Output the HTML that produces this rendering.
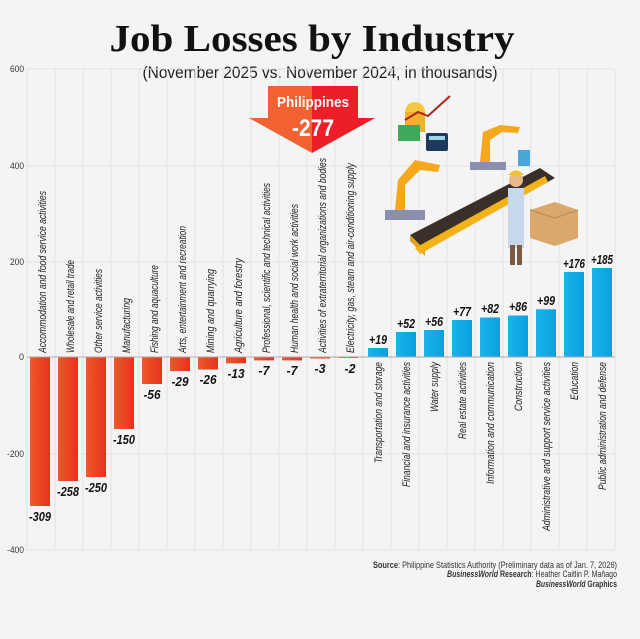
<!DOCTYPE html>
<html><head><style>
html,body{margin:0;padding:0;background:#f4f4f4;}
svg{display:block;}
</style></head><body>
<svg width="640" height="639" viewBox="0 0 640 639" xmlns="http://www.w3.org/2000/svg" font-family="'Liberation Sans Narrow','Liberation Sans',sans-serif">
<defs>
<linearGradient id="neg" x1="0" x2="1"><stop offset="0" stop-color="#f05a2a"/><stop offset="1" stop-color="#e5301e"/></linearGradient>
<linearGradient id="pos" x1="0" x2="1"><stop offset="0" stop-color="#19b4ec"/><stop offset="1" stop-color="#0a9fe0"/></linearGradient>
<linearGradient id="arr" x1="0" x2="1"><stop offset="0.5" stop-color="#f26131"/><stop offset="0.5" stop-color="#ec1f28"/></linearGradient>
</defs>
<rect width="640" height="639" fill="#f4f4f4"/>
<text x="312" y="51" text-anchor="middle" font-family="'Liberation Serif',serif" font-weight="bold" font-size="38" fill="#111" textLength="405" lengthAdjust="spacingAndGlyphs">Job Losses by Industry</text>
<text x="320" y="78" text-anchor="middle" font-size="17" fill="#222" textLength="355" lengthAdjust="spacingAndGlyphs">(November 2025 vs. November 2024, in thousands)</text>
<g stroke="#e2e2e2" stroke-width="1">
<line x1="27" y1="69" x2="615" y2="69"/><line x1="27" y1="166" x2="615" y2="166"/><line x1="27" y1="262" x2="615" y2="262"/><line x1="27" y1="454" x2="615" y2="454"/><line x1="27" y1="550" x2="615" y2="550"/>
<line x1="27" y1="69" x2="27" y2="550"/><line x1="55" y1="69" x2="55" y2="550"/><line x1="83" y1="69" x2="83" y2="550"/><line x1="111" y1="69" x2="111" y2="550"/><line x1="139" y1="69" x2="139" y2="550"/><line x1="167" y1="69" x2="167" y2="550"/><line x1="195" y1="69" x2="195" y2="550"/><line x1="223" y1="69" x2="223" y2="550"/><line x1="251" y1="69" x2="251" y2="550"/><line x1="279" y1="69" x2="279" y2="550"/><line x1="307" y1="69" x2="307" y2="550"/><line x1="335" y1="69" x2="335" y2="550"/><line x1="363" y1="69" x2="363" y2="550"/><line x1="391" y1="69" x2="391" y2="550"/><line x1="419" y1="69" x2="419" y2="550"/><line x1="447" y1="69" x2="447" y2="550"/><line x1="475" y1="69" x2="475" y2="550"/><line x1="503" y1="69" x2="503" y2="550"/><line x1="531" y1="69" x2="531" y2="550"/><line x1="559" y1="69" x2="559" y2="550"/><line x1="587" y1="69" x2="587" y2="550"/><line x1="615" y1="69" x2="615" y2="550"/>
</g>
<g font-size="9" fill="#333" text-anchor="end">
<text x="24" y="72" textLength="14" lengthAdjust="spacingAndGlyphs">600</text><text x="24" y="169" textLength="14" lengthAdjust="spacingAndGlyphs">400</text><text x="24" y="265" textLength="14" lengthAdjust="spacingAndGlyphs">200</text><text x="24" y="360">0</text><text x="24" y="457" textLength="17" lengthAdjust="spacingAndGlyphs">-200</text><text x="24" y="553" textLength="17" lengthAdjust="spacingAndGlyphs">-400</text>
</g>
<g fill="url(#neg)">
<rect x="30" y="357" width="20" height="149"/>
<rect x="58" y="357" width="20" height="124"/>
<rect x="86" y="357" width="20" height="120"/>
<rect x="114" y="357" width="20" height="72"/>
<rect x="142" y="357" width="20" height="27"/>
<rect x="170" y="357" width="20" height="14"/>
<rect x="198" y="357" width="20" height="12.5"/>
<rect x="226" y="357" width="20" height="6.3"/>
<rect x="254" y="357" width="20" height="3.4"/>
<rect x="282" y="357" width="20" height="3.4"/>
<rect x="310" y="357" width="20" height="1.5"/>
<rect x="338" y="357" width="20" height="1"/>
</g>
<g fill="url(#pos)">
<rect x="368" y="348" width="20" height="9"/>
<rect x="396" y="332" width="20" height="25"/>
<rect x="424" y="330" width="20" height="27"/>
<rect x="452" y="320" width="20" height="37"/>
<rect x="480" y="317.5" width="20" height="39.5"/>
<rect x="508" y="315.5" width="20" height="41.5"/>
<rect x="536" y="309.3" width="20" height="47.7"/>
<rect x="564" y="272" width="20" height="85"/>
<rect x="592" y="268" width="20" height="89"/>
</g>
<line x1="27" y1="357" x2="615" y2="357" stroke="#aaa" stroke-width="1"/>
<g font-size="13" font-style="italic" font-weight="bold" fill="#111" text-anchor="middle" lengthAdjust="spacingAndGlyphs">
<text x="40" y="521" textLength="22" lengthAdjust="spacingAndGlyphs">-309</text><text x="68" y="496" textLength="22" lengthAdjust="spacingAndGlyphs">-258</text><text x="96" y="492" textLength="22" lengthAdjust="spacingAndGlyphs">-250</text><text x="124" y="444" textLength="22" lengthAdjust="spacingAndGlyphs">-150</text><text x="152" y="399" textLength="17" lengthAdjust="spacingAndGlyphs">-56</text><text x="180" y="386" textLength="17" lengthAdjust="spacingAndGlyphs">-29</text><text x="208" y="384" textLength="17" lengthAdjust="spacingAndGlyphs">-26</text><text x="236" y="378" textLength="17" lengthAdjust="spacingAndGlyphs">-13</text><text x="264" y="375" textLength="11" lengthAdjust="spacingAndGlyphs">-7</text><text x="292" y="375" textLength="11" lengthAdjust="spacingAndGlyphs">-7</text><text x="320" y="373" textLength="11" lengthAdjust="spacingAndGlyphs">-3</text><text x="350" y="373" textLength="11" lengthAdjust="spacingAndGlyphs">-2</text>
<text x="378" y="344" textLength="18" lengthAdjust="spacingAndGlyphs">+19</text><text x="406" y="328" textLength="18" lengthAdjust="spacingAndGlyphs">+52</text><text x="434" y="326" textLength="18" lengthAdjust="spacingAndGlyphs">+56</text><text x="462" y="316" textLength="18" lengthAdjust="spacingAndGlyphs">+77</text><text x="490" y="313" textLength="18" lengthAdjust="spacingAndGlyphs">+82</text><text x="518" y="311" textLength="18" lengthAdjust="spacingAndGlyphs">+86</text><text x="546" y="305" textLength="18" lengthAdjust="spacingAndGlyphs">+99</text><text x="574" y="268" textLength="22" lengthAdjust="spacingAndGlyphs">+176</text><text x="602" y="264" textLength="22" lengthAdjust="spacingAndGlyphs">+185</text>
</g>
<g font-size="11" font-style="italic" fill="#222">
<text transform="translate(46,353) rotate(-90)" textLength="162" lengthAdjust="spacingAndGlyphs">Accommodation and food service activities</text>
<text transform="translate(74,353) rotate(-90)" textLength="93" lengthAdjust="spacingAndGlyphs">Wholesale and retail trade</text>
<text transform="translate(102,353) rotate(-90)" textLength="84" lengthAdjust="spacingAndGlyphs">Other service activities</text>
<text transform="translate(130,353) rotate(-90)" textLength="55" lengthAdjust="spacingAndGlyphs">Manufacturing</text>
<text transform="translate(158,353) rotate(-90)" textLength="88" lengthAdjust="spacingAndGlyphs">Fishing and aquaculture</text>
<text transform="translate(186,353) rotate(-90)" textLength="127" lengthAdjust="spacingAndGlyphs">Arts, entertainment and recreation</text>
<text transform="translate(214,353) rotate(-90)" textLength="84" lengthAdjust="spacingAndGlyphs">Mining and quarrying</text>
<text transform="translate(242,353) rotate(-90)" textLength="95" lengthAdjust="spacingAndGlyphs">Agriculture and forestry</text>
<text transform="translate(270,353) rotate(-90)" textLength="170" lengthAdjust="spacingAndGlyphs">Professional, scientific and technical activities</text>
<text transform="translate(298,353) rotate(-90)" textLength="149" lengthAdjust="spacingAndGlyphs">Human health and social work activities</text>
<text transform="translate(326,353) rotate(-90)" textLength="195" lengthAdjust="spacingAndGlyphs">Activities of extraterritorial organizations and bodies</text>
<text transform="translate(354,353) rotate(-90)" textLength="190" lengthAdjust="spacingAndGlyphs">Electricity, gas, steam and air-conditioning supply</text>
<text transform="translate(382,362) rotate(-90)" text-anchor="end" textLength="101" lengthAdjust="spacingAndGlyphs">Transportation and storage</text>
<text transform="translate(410,362) rotate(-90)" text-anchor="end" textLength="125" lengthAdjust="spacingAndGlyphs">Financial and insurance activities</text>
<text transform="translate(438,362) rotate(-90)" text-anchor="end" textLength="50" lengthAdjust="spacingAndGlyphs">Water supply</text>
<text transform="translate(466,362) rotate(-90)" text-anchor="end" textLength="77" lengthAdjust="spacingAndGlyphs">Real estate activities</text>
<text transform="translate(494,362) rotate(-90)" text-anchor="end" textLength="122" lengthAdjust="spacingAndGlyphs">Information and communication</text>
<text transform="translate(522,362) rotate(-90)" text-anchor="end" textLength="49" lengthAdjust="spacingAndGlyphs">Construction</text>
<text transform="translate(550,362) rotate(-90)" text-anchor="end" textLength="169" lengthAdjust="spacingAndGlyphs">Administrative and support service activities</text>
<text transform="translate(578,362) rotate(-90)" text-anchor="end" textLength="38" lengthAdjust="spacingAndGlyphs">Education</text>
<text transform="translate(606,362) rotate(-90)" text-anchor="end" textLength="128" lengthAdjust="spacingAndGlyphs">Public administration and defense</text>
</g>
<path d="M268,86 H358 V118 H375 L312,153 L249,118 H268 Z" fill="url(#arr)"/>
<text x="313" y="107" text-anchor="middle" font-size="15" font-weight="bold" fill="#fff" textLength="72" lengthAdjust="spacingAndGlyphs">Philippines</text>
<text x="313" y="136" text-anchor="middle" font-size="24" font-weight="bold" fill="#fff" textLength="42" lengthAdjust="spacingAndGlyphs">-277</text>
<g>
<path d="M410,235 L540,168 L555,178 L425,250 Z" fill="#3a2f2a"/>
<path d="M410,235 L425,250 L425,256 L410,241 Z" fill="#e6a21a"/>
<path d="M415,248 L545,176 L548,182 L420,254 Z" fill="#f2b21a"/>
<rect x="385" y="210" width="40" height="10" fill="#8a8fb0"/>
<path d="M395,210 L398,180 L415,160 L440,165 L438,172 L420,170 L405,185 L405,210 Z" fill="#f5a81c"/>
<rect x="470" y="162" width="36" height="8" fill="#8a8fb0"/>
<path d="M480,162 L483,132 L500,125 L520,127 L518,133 L502,132 L490,140 L490,162 Z" fill="#f5a81c"/>
<circle cx="415" cy="112" r="10" fill="#f5c842"/>
<rect x="405" y="112" width="20" height="20" fill="#f0b030"/>
<rect x="398" y="125" width="22" height="16" fill="#3fa85a"/>
<rect x="426" y="133" width="22" height="18" rx="2" fill="#1e3a5a"/>
<rect x="429" y="136" width="16" height="4" fill="#9fd3e8"/>
<path d="M405,120 L418,112 L428,116 L450,96" stroke="#b0251a" stroke-width="2" fill="none"/>
<rect x="518" y="150" width="12" height="16" fill="#4aa6d6"/>
<rect x="508" y="188" width="16" height="60" fill="#c8d8ec"/>
<circle cx="516" cy="180" r="7" fill="#e8b88a"/>
<path d="M508,175 Q516,166 524,175 Z" fill="#f2c12e"/>
<rect x="510" y="245" width="5" height="20" fill="#7a5a40"/><rect x="517" y="245" width="5" height="20" fill="#7a5a40"/>
<path d="M530,210 L555,202 L578,210 L578,238 L555,246 L530,238 Z" fill="#d9a86a"/>
<path d="M530,210 L555,218 L578,210" stroke="#b78850" fill="none"/>
</g>
<g font-size="9.5" fill="#333" text-anchor="end">
<text x="617" y="568" textLength="244" lengthAdjust="spacingAndGlyphs"><tspan font-weight="bold">Source</tspan>: Philippine Statistics Authority (Preliminary data as of Jan. 7, 2026)</text>
<text x="617" y="577" textLength="170" lengthAdjust="spacingAndGlyphs"><tspan font-weight="bold" font-style="italic">BusinessWorld</tspan><tspan font-weight="bold"> Research</tspan>: Heather Caitlin P. Mañago</text>
<text x="617" y="587" textLength="81" lengthAdjust="spacingAndGlyphs"><tspan font-weight="bold" font-style="italic">BusinessWorld</tspan><tspan font-weight="bold"> Graphics</tspan></text>
</g>
</svg>
</body></html>
